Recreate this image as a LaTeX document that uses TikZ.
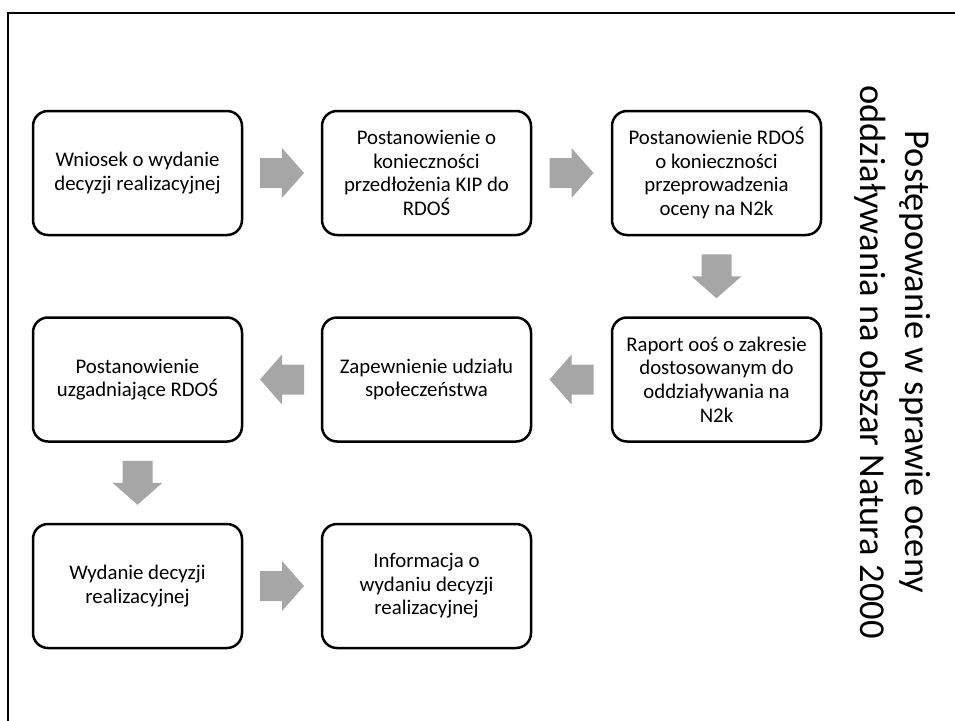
\documentclass[tikz,border=0pt]{standalone}
\usepackage{fontspec}
\setmainfont{Carlito}
\usetikzlibrary{calc}
\definecolor{arrowgray}{HTML}{A6A6A6}
\tikzset{
  stepbox/.style={draw=black, line width=2.5pt, rounded corners=15pt, fill=white,
    minimum width=209pt, minimum height=124pt, align=center, inner sep=4pt,
    font=\fontsize{20.8}{23.6}\selectfont},
  titletext/.style={align=center, rotate=-90, font=\fontsize{36.5}{45}\selectfont},
  frameline/.style={draw=black, line width=2pt}
}
\newcommand{\blkarrow}[2]{%
  \begin{scope}[shift={(#1)}, rotate=#2]
    \fill[arrowgray] (-22,-15) -- (0,-15) -- (0,-25) -- (22,0) -- (0,25) -- (0,15) -- (-22,15) -- cycle;
  \end{scope}}
\begin{document}
\begin{tikzpicture}[x=1pt, y=-1pt]
\useasboundingbox (0,0) rectangle (955,720);
\clip (0,0) rectangle (955,720);
\draw[frameline] (8,13) rectangle (970,740);

\node[stepbox] (b1) at (137.5,173) {Wniosek o wydanie\\decyzji realizacyjnej};
\node[stepbox] (b2) at (426.5,173) {Postanowienie o\\konieczności\\przedłożenia KIP do\\RDOŚ};
\node[stepbox] (b3) at (716.5,173) {Postanowienie RDOŚ\\o konieczności\\przeprowadzenia\\oceny na N2k};
\node[stepbox] (b4) at (137.5,379.5) {Postanowienie\\uzgadniające RDOŚ};
\node[stepbox] (b5) at (426.5,379.5) {Zapewnienie udziału\\społeczeństwa};
\node[stepbox] (b6) at (716.5,379.5) {Raport ooś o zakresie\\dostosowanym do\\oddziaływania na\\N2k};
\node[stepbox] (b7) at (137.5,586) {Wydanie decyzji\\realizacyjnej};
\node[stepbox] (b8) at (426.5,586) {Informacja o\\wydaniu decyzji\\realizacyjnej};

\node[titletext] (title) at (893,362) {Postępowanie w sprawie oceny\\oddziaływania na obszar Natura 2000};

\coordinate (a12) at ($(b1.east)!0.5!(b2.west)$);
\coordinate (a23) at ($(b2.east)!0.5!(b3.west)$);
\coordinate (a36) at ($(b3.south)!0.5!(b6.north)$);
\coordinate (a65) at ($(b6.west)!0.5!(b5.east)$);
\coordinate (a54) at ($(b5.west)!0.5!(b4.east)$);
\coordinate (a47) at ($(b4.south)!0.5!(b7.north)$);
\coordinate (a78) at ($(b7.east)!0.5!(b8.west)$);

\blkarrow{a12}{0}
\blkarrow{a23}{0}
\blkarrow{a36}{-90}
\blkarrow{a65}{180}
\blkarrow{a54}{180}
\blkarrow{a47}{-90}
\blkarrow{a78}{0}
\end{tikzpicture}
\end{document}
